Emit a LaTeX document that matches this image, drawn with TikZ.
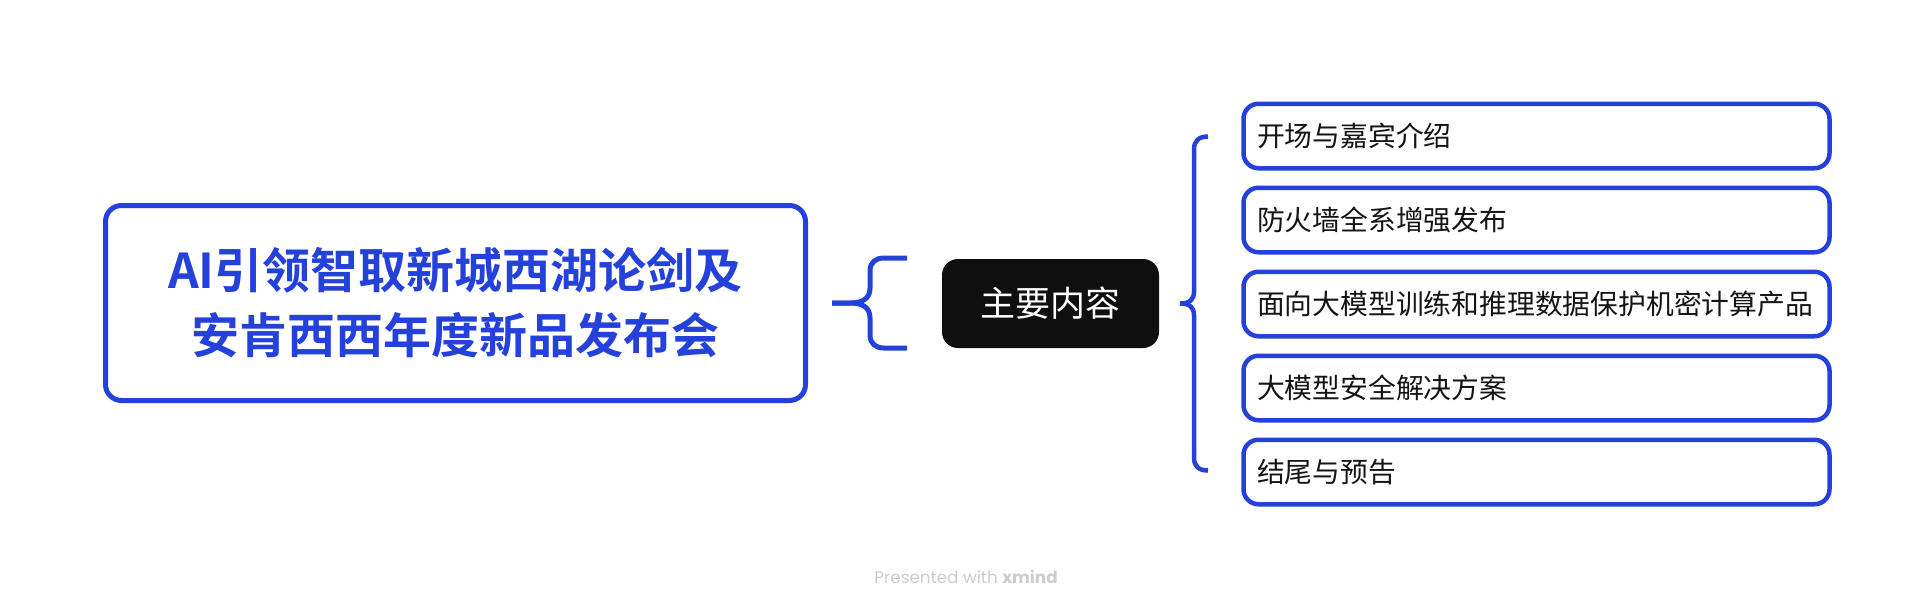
\documentclass[tikz,border=0pt]{standalone}
\usepackage{fontspec}
\newfontfamily\cjk{Noto Sans CJK SC}
\newfontfamily\cjkb{Noto Sans CJK SC Bold}
\newfontfamily\credit{Poppins}
\usetikzlibrary{calc}
\definecolor{xblue}{RGB}{37,65,219}
\definecolor{xblack}{RGB}{15,15,15}
\definecolor{xgray}{RGB}{204,204,204}
\definecolor{xtext}{RGB}{20,20,20}
\tikzset{
  titlebox/.style={draw=xblue, line width=5pt, rounded corners=16pt, fill=white,
    minimum width=700pt, minimum height=195pt, inner sep=0pt, align=center,
    text=xblue, font=\cjkb\fontsize{48pt}{65pt}\selectfont},
  keybox/.style={fill=xblack, draw=none, rounded corners=16pt, outer sep=0pt,
    minimum width=217pt, minimum height=89pt, inner sep=0pt,
    text=white, font=\cjk\fontsize{35pt}{40pt}\selectfont},
  itembox/.style={draw=xblue, line width=4.5pt, rounded corners=15pt, fill=white,
    minimum height=64.5pt, inner xsep=13.5pt, inner ysep=0pt, text width=559pt, align=left,
    text=xtext, font=\cjk\fontsize{27.8pt}{32pt}\selectfont},
  bigbrace/.style={draw=xblue, line width=5pt},
  smallbrace/.style={draw=xblue, line width=4.5pt},
}
\begin{document}
\begin{tikzpicture}[x=1pt, y=-1pt]
\useasboundingbox (0,0) rectangle (1932,608);
\node[titlebox] (main) at (455.5,303) {AI引领智取新城西湖论剑及\\安肯西西年度新品发布会};
\node[keybox] (key) at (1050.5,303.5) {主要内容};
\node[itembox] (i1) at (1536.5,136) {开场与嘉宾介绍};
\node[itembox] (i2) at (1536.5,220) {防火墙全系增强发布};
\node[itembox] (i3) at (1536.5,304) {面向大模型训练和推理数据保护机密计算产品};
\node[itembox] (i4) at (1536.5,388) {大模型安全解决方案};
\node[itembox] (i5) at (1536.5,472) {结尾与预告};
% left brace: main -> key
\coordinate (ltip) at ($(main.east)+(24,0)$);
\draw[bigbrace] (ltip) -- ++(18,0) .. controls +(12,0) and +(0,11) .. ++(20,-15) -- ++(0,-17)
  .. controls +(0,-9) and +(-8,0) .. ++(14,-13) -- ++(23,0);
\draw[bigbrace] (ltip) -- ++(18,0) .. controls +(12,0) and +(0,-11) .. ++(20,15) -- ++(0,17)
  .. controls +(0,9) and +(-8,0) .. ++(14,13) -- ++(23,0);
% right brace: key -> items
\coordinate (rtip) at ($(key.east)+(21,0)$);
\draw[smallbrace] (rtip) .. controls +(10,0) and +(0,8) .. ++(14,-12) -- ++(0,-142)
  .. controls +(0,-9) and +(-9,0) .. ++(14,-13);
\draw[smallbrace] (rtip) .. controls +(10,0) and +(0,-8) .. ++(14,12) -- ++(0,142)
  .. controls +(0,9) and +(-9,0) .. ++(14,13);
\node[text=xgray, font=\credit\fontsize{16.8pt}{19pt}\selectfont, inner sep=0pt] (credit) at (966,577) {Presented with \textbf{xmind}};
\end{tikzpicture}
\end{document}
